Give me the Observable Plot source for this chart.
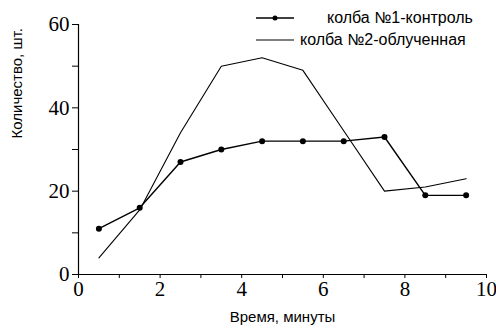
<!DOCTYPE html>
<html><head><meta charset="utf-8">
<script src="https://cdn.jsdelivr.net/npm/d3@7"></script>
<script src="https://cdn.jsdelivr.net/npm/@observablehq/plot@0.6"></script>
<style>
body{margin:0;background:#fff;}
#wrap{position:relative;width:496px;height:331px;}
#legend{position:absolute;left:256px;top:7px;font-family:"Liberation Sans",Arial,sans-serif;font-size:16px;color:#000;line-height:22px;}
#legend div{display:flex;align-items:center;white-space:nowrap;}
#legend svg{flex:none;}
</style></head><body>
<div id="wrap"><div id="chart"></div>
<div id="legend"></div></div>
<script>
const times = [0.5, 1.5, 2.5, 3.5, 4.5, 5.5, 6.5, 7.5, 8.5, 9.5];
const control = [11, 16, 27, 30, 32, 32, 32, 33, 19, 19];
const irradiated = [4, 15.5, 34, 50, 52, 49, 34.5, 20, 21, 23];
const seriesNames = ["колба №1-контроль", "колба №2-облученная"];
const xTicks = [0,1,2,3,4,5,6,7,8,9,10];
const yTicks = [0,10,20,30,40,50,60];
const xLabel = "Время, минуты";
const yLabel = "Количество, шт.";

const d1 = times.map((t,i)=>({t, v: control[i]}));
const d2 = times.map((t,i)=>({t, v: irradiated[i]}));
const serif = "Liberation Serif";
const sans = "Liberation Sans";

const chart = Plot.plot({
  width: 496, height: 331,
  marginLeft: 78, marginRight: 10, marginTop: 24, marginBottom: 57,
  style: {background: "#fff", color: "#000"},
  x: {domain: [0, 10]},
  y: {domain: [0, 60]},
  marks: [
    Plot.axisX({ticks: xTicks, tickSize: 4, tickPadding: 3, tickFormat: d => d % 2 === 0 ? d : "", label: null, fontSize: 21, fontFamily: serif, fontVariant: "normal"}),
    Plot.axisY({ticks: yTicks, tickSize: 6, tickPadding: 3, tickFormat: d => d % 20 === 0 ? d : "", label: null, fontSize: 21, fontFamily: serif, fontVariant: "normal"}),
    Plot.ruleX([0], {stroke: "#000", strokeWidth: 1.2}),
    Plot.ruleY([0], {stroke: "#000", strokeWidth: 1.2}),
    Plot.line(d2, {x: "t", y: "v", stroke: "#000", strokeWidth: 1.1}),
    Plot.line(d1, {x: "t", y: "v", stroke: "#000", strokeWidth: 1.4}),
    Plot.dot(d1, {x: "t", y: "v", r: 3, fill: "#000"}),
    Plot.text([xLabel], {frameAnchor: "bottom", dy: 47, fontSize: 15, fontFamily: sans}),
    Plot.text([yLabel], {frameAnchor: "left", dx: -61, dy: -11, rotate: -90, fontSize: 15, fontFamily: sans})
  ]
});
document.getElementById("chart").appendChild(chart);
chart.querySelectorAll('g[aria-label$="tick label"]').forEach(g => {
  g.removeAttribute("font-variant");
  g.style.fontVariant = "normal";
  g.querySelectorAll("text").forEach(t => { t.style.fontFamily = serif; t.style.fontVariant = "normal"; });
});

const lg = document.getElementById("legend");
lg.innerHTML = `
<div><svg width="40" height="10"><line x1="0" y1="5" x2="38" y2="5" stroke="#000" stroke-width="1.4"/><circle cx="19" cy="5" r="2.5" fill="#000"/></svg><span style="margin-left:31px">${seriesNames[0]}</span></div>
<div><svg width="40" height="10"><line x1="0" y1="5" x2="38" y2="5" stroke="#000" stroke-width="1.1"/></svg><span style="margin-left:4px">${seriesNames[1]}</span></div>`;
</script>
</body></html>
